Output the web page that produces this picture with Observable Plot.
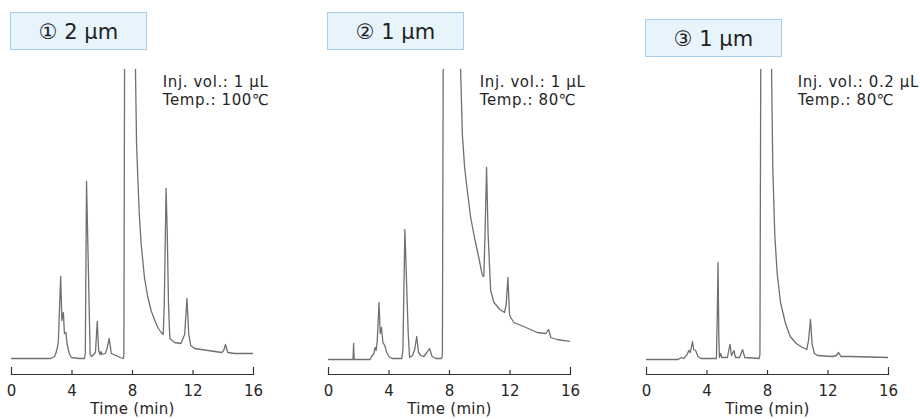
<!DOCTYPE html>
<html>
<head>
<meta charset="utf-8">
<script src="https://cdn.jsdelivr.net/npm/d3@7"></script>
<script src="https://cdn.jsdelivr.net/npm/@observablehq/plot@0.6"></script>
<style>
  html, body { margin: 0; padding: 0; background: #fff; overflow: hidden; }
  #wrap { position: relative; width: 920px; height: 419px; overflow: hidden; font-family: "DejaVu Sans", "Noto Sans CJK JP", sans-serif; }
  .panel { position: absolute; top: 0; width: 302px; height: 419px; }
  .panel svg { max-width: none !important; }
  .box { position: absolute; box-sizing: border-box; width: 137px; height: 38px; background: #e8f4fc; border: 1px solid #a9cdea;
         display: flex; align-items: center; justify-content: center; font-size: 21px; color: #222; padding-top: 1px; }
</style>
</head>
<body>
<div id="wrap"></div>
<script>
// ---- data (time in min, signal in arbitrary units) ----
const xTicks = [0, 4, 8, 12, 16];
const xEndTicks = [0, 16];
const xMidTicks = [4, 8, 12];
const xTitle = "Time (min)";
const panelLabels = ["① 2 µm", "② 1 µm", "③ 1 µm"];
const injVols = ["Inj. vol.: 1 µL", "Inj. vol.: 1 µL", "Inj. vol.: 0.2 µL"];
const temps = ["Temp.: 100℃", "Temp.: 80℃", "Temp.: 80℃"];

const trace1 = [
  [0,16],[2.6,16],[2.85,18],[2.95,22],[3.05,28],[3.1,34],[3.25,98],[3.33,54],[3.43,62],[3.5,41],[3.6,42],[3.68,30],
  [3.8,22],[3.95,17],[4.5,16],[4.82,16],[4.88,21],[4.96,193],[5.02,150],[5.07,114],[5.2,20],[5.3,18],[5.55,22],[5.67,53],
  [5.76,24],[5.85,20],[5.92,23],[5.98,20],[6.2,21],[6.32,26],[6.46,36],[6.6,21],[6.9,19],[7.2,17],[7.4,16],[7.43,20],
  [7.49,400],[8.14,400],[8.2,300],[8.27,230],[8.35,197],[8.45,160],[8.57,131],[8.79,97],[9.0,78],[9.23,64],[9.45,55],
  [9.67,47],[9.9,42],[10.03,40],[10.1,70],[10.22,186],[10.3,140],[10.38,70],[10.47,36],[10.78,32],[11.2,31],[11.45,40],
  [11.6,76],[11.72,40],[11.85,29],[12.1,26],[13.0,24],[13.9,22],[14.03,24],[14.15,30],[14.3,22],[14.75,21],[16,21]
];
const trace2 = [
  [0,15],[1.62,15],[1.66,31],[1.7,15],[2.75,15],[2.85,18],[3.0,21],[3.08,27],[3.15,24],[3.22,33],[3.34,72],[3.42,41],
  [3.5,47],[3.6,32],[3.72,29],[3.85,22],[4.0,18],[4.2,16],[4.85,16],[4.92,25],[5.05,145],[5.2,74],[5.27,41],[5.36,17],
  [5.55,19],[5.7,25],[5.83,38],[5.95,22],[6.1,19],[6.3,18],[6.5,22],[6.68,26],[6.85,18],[7.1,16],[7.48,16],[7.53,20],
  [7.6,400],[8.65,400],[8.74,302],[8.85,240],[9.0,207],[9.2,181],[9.4,157],[9.65,137],[9.95,116],[10.17,99],[10.27,98],
  [10.35,140],[10.45,207],[10.55,141],[10.72,84],[10.94,72],[11.33,65],[11.64,62],[11.75,70],[11.86,97],[11.97,60],
  [12.05,57],[12.26,52],[12.9,48],[13.8,42],[14.37,41],[14.55,45],[14.7,37],[15.1,35],[16,33]
];
const trace3 = [
  [0,15],[2.1,15],[2.3,17],[2.45,16],[2.65,19],[2.8,24],[2.9,22],[3.04,33],[3.12,25],[3.25,24],[3.4,18],[3.6,16],
  [4.62,16],[4.68,60],[4.73,112],[4.78,40],[4.82,17],[4.9,21],[4.98,17],[5.35,17],[5.45,25],[5.52,30],[5.62,19],
  [5.78,24],[5.88,17],[6.15,17],[6.35,25],[6.5,17],[7.45,16],[7.5,20],[7.57,400],[8.2,400],[8.27,302],[8.35,207],
  [8.48,140],[8.64,101],[8.86,72],[9.19,51],[9.5,38],[9.9,31],[10.3,27],[10.6,25],[10.72,35],[10.84,55],[10.95,30],
  [11.1,21],[11.3,19],[12.3,18],[12.55,19],[12.7,22],[12.85,18],[13.5,18],[16,17]
];
const traces = [trace1, trace2, trace3];

// ---- layout ----
const plotLefts = [11, 327.7, 645.7];
const boxPos = [[10, 12], [327, 12], [645, 19]];
const mL = 20, mR = 40, W = 302, H = 419, mT = 69, mB = 45;
const frameH = H - mT - mB;

const wrap = document.getElementById("wrap");

traces.forEach((trace, k) => {
  const chart = Plot.plot({
    width: W, height: H,
    marginLeft: mL, marginRight: mR, marginTop: mT, marginBottom: mB,
    x: {domain: [0, 16], axis: null},
    y: {domain: [0, frameH], axis: null},
    style: {background: "transparent", fontFamily: "DejaVu Sans", color: "#262626", overflow: "visible", maxWidth: "none"},
    marks: [
      Plot.line(trace, {x: d => d[0], y: d => d[1], stroke: "#707070", strokeWidth: 1.3, strokeLinejoin: "round", clip: true}),
      Plot.frame({anchor: "bottom", stroke: "#333", strokeWidth: 1.2}),
      Plot.tickX(xMidTicks, {x: d => d, insetTop: frameH - 4, stroke: "#333", strokeWidth: 1.2}),
      Plot.tickX(xEndTicks, {x: d => d, insetTop: frameH - 7, stroke: "#333", strokeWidth: 1.2}),
      Plot.axisX(xTicks, {tickSize: 0, tickPadding: 11, fontSize: 15, label: null}),
      Plot.text([xTitle], {frameAnchor: "bottom", lineAnchor: "middle", dy: 35, fontSize: 15, fill: "#262626"}),
      Plot.text([injVols[k] + "\n" + temps[k]], {x: 10, frameAnchor: "top", textAnchor: "start", lineAnchor: "top",
        dy: 5, fontSize: 15, lineHeight: 1.2, fill: "#262626"})
    ]
  });
  chart.querySelectorAll("text").forEach(t => {
    const s = t.textContent;
    if (s.includes("Inj")) t.style.letterSpacing = "0.6px";
    else if (s.includes("Time")) t.style.letterSpacing = "0.3px";
  });
  const div = document.createElement("div");
  div.className = "panel";
  div.style.left = (plotLefts[k] - mL) + "px";
  div.appendChild(chart);
  wrap.appendChild(div);

  const box = document.createElement("div");
  box.className = "box";
  box.style.left = boxPos[k][0] + "px";
  box.style.top = boxPos[k][1] + "px";
  box.textContent = panelLabels[k];
  wrap.appendChild(box);
});
</script>
</body>
</html>
